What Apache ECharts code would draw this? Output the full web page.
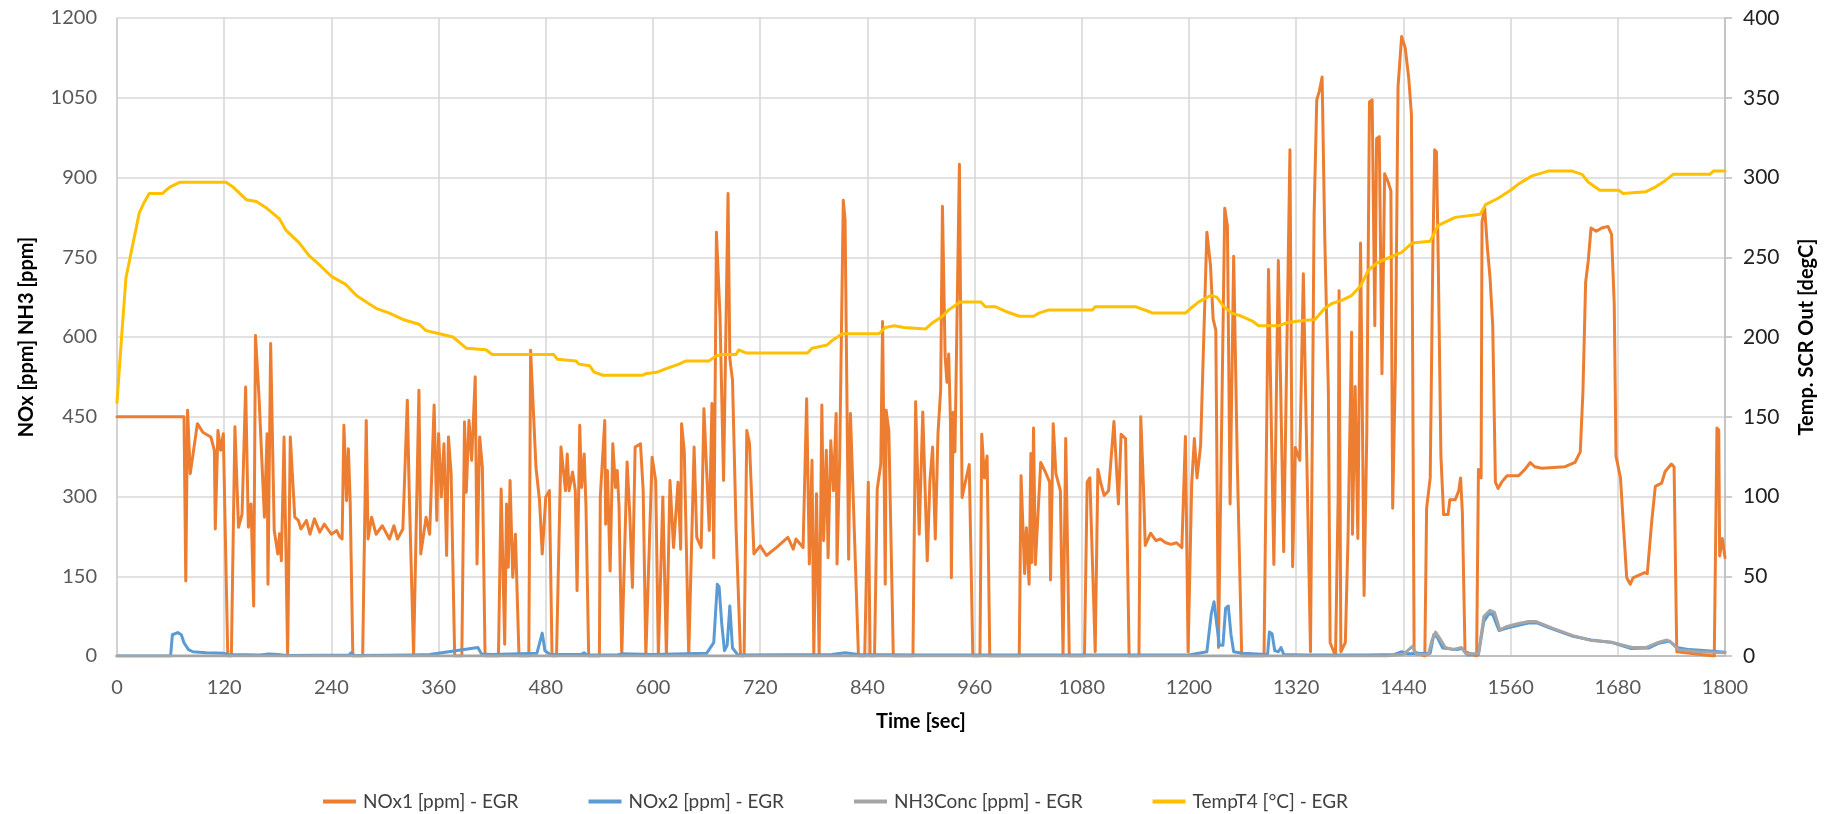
<!DOCTYPE html>
<html>
<head>
<meta charset="utf-8">
<script src="https://cdn.jsdelivr.net/npm/echarts@6/dist/echarts.min.js"></script>
<style>
html,body{margin:0;padding:0;background:#fff;}
#chart{width:1841px;height:814px;}
</style>
</head>
<body>
<div id="chart"></div>
<script>
// ---- Data (time [s], value) ----
const seriesNames = ['NOx1 [ppm] - EGR', 'NOx2 [ppm] - EGR', 'NH3Conc [ppm] - EGR', 'TempT4 [°C] - EGR'];

const nox1 = [[0,450],[75,450],[77,141],[79,462],[82,343],[90,437],[96,421],[105,412],[109,387],[110,239],[113,424],[116,387],[119,418],[124,0],[128,0],[132,431],[136,242],[140,267],[144,506],[147,242],[150,286],[153,94],[155,603],[159,487],[165,261],[168,418],[169,135],[172,588],[176,236],[180,192],[182,230],[184,179],[187,412],[191,0],[194,412],[199,261],[203,255],[206,239],[212,255],[216,229],[221,258],[227,233],[232,248],[240,229],[246,236],[249,225],
[252,220],[254,434],[257,292],[259,390],[261,292],[264,0],[275,0],[279,443],[281,220],[285,261],[290,229],[297,245],[305,220],[310,245],[314,220],[320,239],[325,481],[327,317],[332,0],[338,500],[340,192],[346,261],[350,229],[355,472],[358,255],[360,418],[363,299],[366,399],[369,189],[371,412],[374,343],[378,0],[386,0],[389,440],[391,308],[394,443],[397,368],[401,525],[403,173],[406,412],[409,355],[412,0],[427,0],[430,314],[434,22],[436,286],[438,167],[440,330],[443,148],[446,229],[450,0],[461,0],[463,575],[469,355],[473,292],[476,192],[480,299],[484,311],[487,0],[492,0],
[497,393],[502,311],[504,380],[506,311],[510,346],[513,311],[515,123],[518,434],[520,317],[523,380],[525,280],[528,0],[540,0],[541,299],[546,443],[547,248],[549,349],[552,160],[555,399],[558,317],[560,349],[562,280],[565,0],[571,365],[574,267],[577,129],[580,393],[586,399],[589,311],[592,0],[599,374],[603,330],[606,0],[611,299],[615,0],[619,330],[623,204],[628,327],[631,201],[632,437],[635,386],[640,0],[642,0],[646,393],[649,223],[654,204],[657,465],[663,236],[666,475],[668,185],[671,797],[675,640],[679,330],[684,870],[686,560],[689,519],[693,240],[698,0],[702,0],[705,424],[708,400],[713,192],[720,207],[727,189],[738,204],[751,223],[757,201],[760,220],[768,204],
[772,484],[775,173],[778,368],[780,0],[783,305],[786,0],[789,472],[791,217],[794,387],[796,185],[799,405],[802,311],[805,456],[806,173],[809,374],[813,857],[815,820],[819,182],[821,456],[830,0],[837,0],[841,327],[843,0],[848,0],[851,314],[855,361],[857,629],[860,135],[861,462],[864,424],[869,0],[891,0],[894,478],[898,229],[902,459],[907,179],[910,330],[913,393],[916,220],[919,418],[922,500],[924,846],[927,564],[929,515],[931,568],[933,440],[934,147],[936,458],[938,384],[943,925],[946,298],[950,330],[954,360],[958,0],[966,0],[968,417],[971,335],[974,376],[977,0],
[1010,0],[1012,339],[1016,155],[1018,241],[1021,135],[1023,381],[1024,176],[1026,429],[1028,172],[1034,364],[1039,347],[1044,327],[1045,143],[1048,437],[1051,343],[1056,311],[1059,0],[1062,409],[1066,0],[1083,0],[1086,327],[1089,335],[1092,172],[1095,8],[1098,351],[1101,327],[1105,302],[1110,311],[1116,441],[1121,286],[1124,417],[1129,409],[1133,0],[1144,0],[1146,450],[1149,319],[1151,208],[1157,231],[1163,217],[1168,220],[1174,213],[1180,210],[1186,213],[1192,204],[1196,413],[1199,8],[1203,323],[1206,409],[1209,335],[1213,396],[1220,797],[1224,736],[1227,634],[1230,613],[1233,16],[1240,842],[1243,809],[1246,286],[1250,752],[1254,368],[1259,0],[1284,0],[1286,294],[1289,727],[1295,172],[1300,744],[1306,196],[1313,952],[1316,168],[1319,392],[1324,368],
[1328,719],[1331,450],[1336,8],[1340,826],[1343,1046],[1346,1063],[1349,1089],[1352,785],[1353,711],[1356,499],[1358,25],[1364,0],[1367,302],[1368,687],[1370,8],[1375,25],[1378,221],[1382,609],[1383,229],[1386,507],[1389,221],[1392,777],[1394,466],[1396,114],[1399,417],[1402,1042],[1405,1046],[1408,621],[1410,973],[1413,977],[1416,531],[1419,907],[1423,891],[1426,875],[1428,278],[1431,539],[1434,1071],[1438,1165],[1442,1144],[1446,1087],[1449,1018],[1452,8],[1464,0],[1466,278],[1470,335],[1473,760],[1475,952],[1477,948],[1479,744],[1482,376],[1485,266],[1490,266],[1492,294],[1498,294],[1502,311],[1504,335],[1506,270],[1509,8],[1522,0],[1524,351],[1527,335],[1528,817],[1531,842],[1534,768],[1537,711],[1540,621],[1543,327],[1546,315],[1550,327],[1556,339],[1569,339],[1576,351],[1582,364],[1587,356],[1595,353],[1621,356],[1632,364],[1638,384],[1641,499],[1644,703],[1647,744],[1650,805],[1656,799],[1662,805],[1669,808],[1673,793],[1676,662],[1678,376],[1683,335],[1686,253],[1690,147],[1694,135],[1697,147],[1710,157],[1713,155],[1718,253],[1722,319],[1729,325],[1733,347],[1740,361],[1743,356],[1746,8],[1788,0],[1791,429],[1793,425],[1794,188],[1797,221],[1800,185]];

const nox2 = [[0,0],[60,0],[62,40],[64,43],[68,44],[72,40],[75,25],[80,12],[85,8],[100,6],[120,5],[125,3],[160,2],[170,4],[180,3],[190,1],[260,2],[262,6],[266,1],[330,2],[350,3],[404,16],[408,4],[420,3],[470,5],[476,43],[479,10],[485,3],[520,3],[523,6],[526,2],[560,2],[565,4],[600,3],[660,5],[668,25],[672,135],[674,130],[677,60],[680,10],[683,20],[686,94],[689,15],[695,2],[800,3],[815,6],[830,3],[900,2],[1000,2],[1100,2],[1200,2],[1220,8],[1225,80],[1228,102],[1231,60],[1234,20],[1238,20],[1241,90],[1244,94],[1247,40],[1250,8],[1260,5],[1288,3],[1290,45],[1293,42],[1296,10],[1300,8],[1303,16],[1306,3],[1330,2],[1400,2],[1430,3],[1438,8],[1445,4],[1470,5],[1474,40],[1478,35],[1484,15],[1500,12],[1506,14],[1512,2],[1524,3],[1530,65],[1536,80],[1540,78],[1547,48],[1555,52],[1570,58],[1580,62],[1590,62],[1605,52],[1630,37],[1650,30],[1672,26],[1695,14],[1715,15],[1726,24],[1738,28],[1746,16],[1760,12],[1780,10],[1800,7]];

const nh3 = [[0,0],[1420,0],[1440,3],[1450,18],[1455,3],[1468,3],[1472,30],[1476,45],[1480,35],[1487,16],[1495,12],[1505,16],[1510,4],[1524,4],[1528,50],[1530,74],[1537,86],[1542,82],[1548,49],[1555,55],[1569,61],[1580,65],[1588,65],[1606,53],[1632,37],[1651,29],[1673,26],[1696,16],[1712,16],[1726,26],[1735,30],[1740,25],[1748,12],[1770,8],[1800,6]];

const tempT4 = [[0,159],[5,199],[10,237],[14,248],[18,259],[21,267],[25,278],[31,285],[36,290],[51,290],[59,294],[70,297],[122,297],[130,294],[145,286],[156,285],[167,281],[182,274],[189,267],[204,259],[215,251],[227,245],[240,238],[256,233],[268,226],[279,222],[290,218],[305,215],[320,211],[338,208],[346,204],[361,202],[376,200],[391,193],[413,192],[420,189],[440,189],[465,189],[489,189],[493,186],[514,185],[517,183],[529,182],[534,178],[544,176],[588,176],[592,177],[605,178],[614,180],[629,183],[637,185],[663,185],[670,188],[678,189],[693,189],[696,192],[704,190],[773,190],[778,193],[795,195],[801,198],[812,202],[853,202],[860,206],[870,207],[881,206],[905,205],[913,209],[924,213],[931,217],[944,222],[967,222],[972,219],[983,219],[995,216],[1010,213],[1026,213],[1032,215],[1043,217],[1092,217],[1095,219],[1140,219],[1155,216],[1159,215],[1196,215],[1202,218],[1211,222],[1224,226],[1231,225],[1239,219],[1248,215],[1259,213],[1271,210],[1278,207],[1300,207],[1310,209],[1323,210],[1341,211],[1352,218],[1360,221],[1371,223],[1382,226],[1392,232],[1401,242],[1412,247],[1425,250],[1438,253],[1450,259],[1470,260],[1479,270],[1498,275],[1526,277],[1532,283],[1546,287],[1560,292],[1569,296],[1584,301],[1602,304],[1629,304],[1640,302],[1647,297],[1660,292],[1681,292],[1686,290],[1711,291],[1722,294],[1733,298],[1742,302],[1783,302],[1787,304],[1800,304]];

const colors = ['#ED7D31', '#5B9BD5', '#A5A5A5', '#FFC000'];
const FONT = 'Lato';
const plain = function (v) { return String(v); };

const chart = echarts.init(document.getElementById('chart'), null, {renderer: 'canvas'});

function lineSeries(name, data, color, yIdx) {
  return {
    name: name, type: 'line', data: data, yAxisIndex: yIdx,
    showSymbol: false, symbol: 'none',
    lineStyle: {color: color, width: 3, join: 'round', cap: 'round'},
    itemStyle: {color: color},
    emphasis: {disabled: true},
    animation: false
  };
}

chart.setOption({
  animation: false,
  textStyle: {fontFamily: FONT},
  grid: {left: 117, right: 116, top: 18, bottom: 158, containLabel: false},
  legend: {
    left: 318, top: 787,
    icon: 'rect', itemWidth: 33, itemHeight: 4, itemGap: 70,
    textStyle: {fontFamily: FONT, fontSize: 19, color: '#404040', padding: [0, 0, 0, 2]},
    data: seriesNames
  },
  xAxis: {
    type: 'value', min: 0, max: 1800, interval: 120,
    name: 'Time [sec]', nameLocation: 'middle', nameGap: 56,
    nameTextStyle: {fontFamily: FONT, fontSize: 20, fontWeight: 'bold', color: '#000'},
    axisLine: {show: true, lineStyle: {color: '#BFBFBF', width: 2}},
    axisTick: {show: false},
    axisLabel: {fontFamily: FONT, fontSize: 20, color: '#595959', margin: 22, formatter: plain},
    splitLine: {show: true, lineStyle: {color: '#D9D9D9', width: 1.6}}
  },
  yAxis: [
    {
      type: 'value', min: 0, max: 1200, interval: 150,
      name: 'NOx [ppm] NH3 [ppm]', nameLocation: 'middle', nameGap: 80, nameRotate: 90,
      nameTextStyle: {fontFamily: FONT, fontSize: 20, fontWeight: 'bold', color: '#000'},
      axisLine: {show: true, lineStyle: {color: '#D0D0D0', width: 1.6}},
      axisTick: {show: false},
      axisLabel: {fontFamily: FONT, fontSize: 20, color: '#595959', margin: 20, formatter: plain},
      splitLine: {show: true, lineStyle: {color: '#D9D9D9', width: 1.6}}
    },
    {
      type: 'value', min: 0, max: 400, interval: 50, position: 'right',
      name: 'Temp. SCR Out [degC]', nameLocation: 'middle', nameGap: 72, nameRotate: 90,
      nameTextStyle: {fontFamily: FONT, fontSize: 20, fontWeight: 'bold', color: '#000'},
      axisLine: {show: true, lineStyle: {color: '#BFBFBF', width: 1.6}},
      axisTick: {show: true, length: 7, lineStyle: {color: '#BFBFBF', width: 1.6}},
      axisLabel: {fontFamily: FONT, fontSize: 21, color: '#222', margin: 18, formatter: plain},
      splitLine: {show: false}
    }
  ],
  series: [
    lineSeries(seriesNames[0], nox1, colors[0], 0),
    lineSeries(seriesNames[1], nox2, colors[1], 0),
    lineSeries(seriesNames[2], nh3, colors[2], 0),
    lineSeries(seriesNames[3], tempT4, colors[3], 1)
  ]
});
</script>
</body>
</html>
